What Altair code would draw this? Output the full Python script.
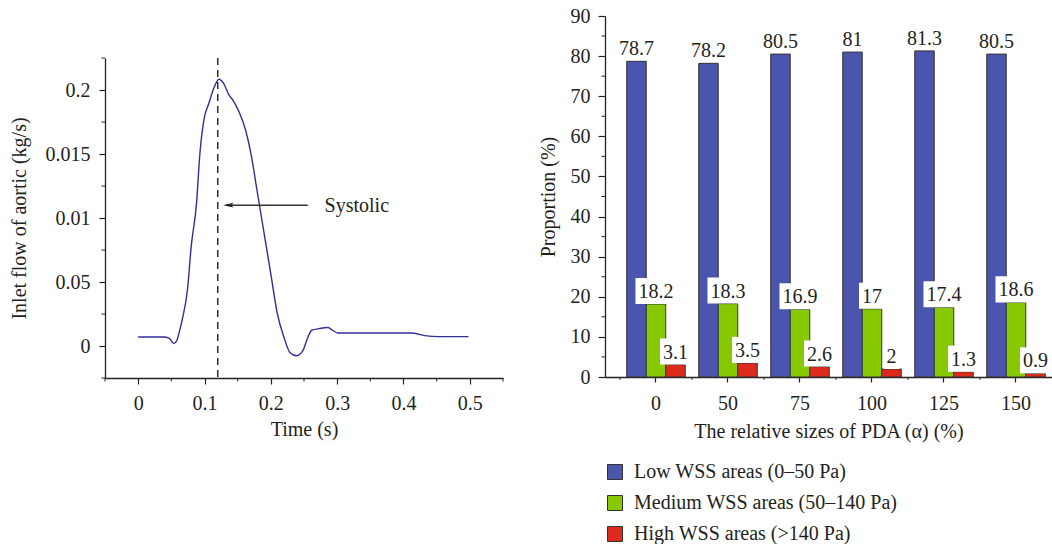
import altair as alt
import pandas as pd

SERIF = "Liberation Serif"
INK = "#231f20"

# ---------------- Left panel: inlet flow ----------------
time_s = [0, 0.038, 0.047, 0.0535, 0.058, 0.062, 0.066, 0.0747, 0.0798, 0.0879,
          0.093, 0.099, 0.1066, 0.114, 0.1217, 0.129, 0.137, 0.142, 0.152, 0.162,
          0.170, 0.180, 0.190, 0.200, 0.210, 0.220, 0.229, 0.239, 0.248, 0.2556,
          0.2616, 0.273, 0.286, 0.293, 0.301, 0.412, 0.432, 0.4525, 0.498]
flow = [0.0007, 0.0007, 0.0006, 0.0002, 0.0004, 0.0011, 0.00196, 0.00457, 0.0077, 0.0111,
        0.0150, 0.01765, 0.01896, 0.02013, 0.02084, 0.0205, 0.0196, 0.01927, 0.0183, 0.01686,
        0.01503, 0.0119, 0.00876, 0.00562, 0.00248, 0.00065, -0.00052, -0.00076, -0.00039, 0.00065,
        0.00123, 0.00136, 0.00144, 0.00123, 0.00102, 0.00102, 0.00081, 0.00073, 0.00073]

systolic_t = 0.12
arrow_from_t = 0.2556
arrow_to_t = 0.1283
arrow_flow = 0.011
systolic_label = "Systolic"
systolic_label_t = 0.281

x_ticks_left = [0, 0.1, 0.2, 0.3, 0.4, 0.5]
x_minor_left = [-0.05, 0.05, 0.15, 0.25, 0.35, 0.45, 0.55]
y_ticks_left = [0, 0.005, 0.01, 0.015, 0.02]
y_tick_labels_left = ["0", "0.05", "0.01", "0.015", "0.2"]
y_minor_left = [-0.0025, 0.0025, 0.0075, 0.0125, 0.0175, 0.0225]
x_domain_left = [-0.05, 0.55]
y_domain_left = [-0.0025, 0.0225]

# ---------------- Right panel: WSS proportions ----------------
alpha_labels = ["0", "50", "75", "100", "125", "150"]
series = ["Low WSS areas (0\u201350 Pa)", "Medium WSS areas (50\u2013140 Pa)", "High WSS areas (>140 Pa)"]
low = [78.7, 78.2, 80.5, 81, 81.3, 80.5]
medium = [18.2, 18.3, 16.9, 17, 17.4, 18.6]
high = [3.1, 3.5, 2.6, 2, 1.3, 0.9]
colors = ["#4b55ad", "#87c900", "#dc2b1c"]
y_ticks_right = [0, 10, 20, 30, 40, 50, 60, 70, 80, 90]
y_minor_right = [5, 15, 25, 35, 45, 55, 65, 75, 85]

W_L, H_L = 398, 320
W_R, H_R = 447, 361
LEFT_DROP = 41

# ---------- left chart ----------
label_expr = "".join(
    f"abs(datum.value - ({v})) < 1e-9 ? '{l}' : " for v, l in zip(y_ticks_left, y_tick_labels_left)
) + "datum.label"

x_scale_l = alt.Scale(domain=x_domain_left, nice=False, zero=False)
y_scale_l = alt.Scale(domain=y_domain_left, nice=False, zero=False)
x_axis_l = alt.Axis(values=x_ticks_left, format="~g", tickSize=6, labelPadding=9, titlePadding=6,
                    domainWidth=1.3)
y_axis_l = alt.Axis(values=y_ticks_left, labelExpr=label_expr, tickSize=6, labelPadding=9,
                    titlePadding=16, domainWidth=1.3)


def xl(field):
    return alt.X(field, type="quantitative", scale=x_scale_l, axis=x_axis_l, title="Time (s)")


def yl(field):
    return alt.Y(field, type="quantitative", scale=y_scale_l, axis=y_axis_l,
                 title="Inlet flow of aortic (kg/s)")


df_flow = pd.DataFrame({"t": time_s, "q": flow})
line = alt.Chart(df_flow).mark_line(color="#2f2f96", strokeWidth=1.4, interpolate="monotone").encode(
    x=xl("t"), y=yl("q"))

dashed = alt.Chart(pd.DataFrame({"t": [systolic_t]})).mark_rule(
    color="#222", strokeWidth=1.4, strokeDash=[7, 5]).encode(x=xl("t"))

df_arrow = pd.DataFrame({"a": [arrow_from_t], "b": [arrow_to_t + 0.004], "q": [arrow_flow]})
arrow = alt.Chart(df_arrow).mark_rule(color="#333", strokeWidth=1.4).encode(
    x=xl("a"), x2="b", y=yl("q"))
df_head = pd.DataFrame({"t": [arrow_to_t + 0.0076], "q": [arrow_flow]})
head = alt.Chart(df_head).mark_point(
    shape="M-1,0L1,-0.45L0.55,0L1,0.45Z", filled=True, size=110, color="#222", opacity=1).encode(
    x=xl("t"), y=yl("q"))

df_lab = pd.DataFrame({"t": [systolic_label_t], "q": [arrow_flow], "txt": [systolic_label]})
lab = alt.Chart(df_lab).mark_text(align="left", baseline="middle", font=SERIF, fontSize=20,
                                  color=INK, dy=1).encode(x=xl("t"), y=yl("q"), text="txt:N")

minor_x_l = alt.Chart(pd.DataFrame({"t": x_minor_left})).mark_rule(color="#222", strokeWidth=1).encode(
    x=xl("t"), y=alt.value(H_L), y2=alt.value(H_L + 3.5))
minor_y_l = alt.Chart(pd.DataFrame({"q": y_minor_left})).mark_rule(color="#222", strokeWidth=1).encode(
    y=yl("q"), x=alt.value(0), x2=alt.value(-3.5))

left_plot = alt.layer(line, dashed, arrow, head, lab, minor_x_l, minor_y_l).properties(
    width=W_L, height=H_L)

spacer = alt.Chart(pd.DataFrame({"a": [0]})).mark_point(opacity=0).encode(
    x=alt.value(0), y=alt.value(0)).properties(width=W_L, height=LEFT_DROP)

left = alt.vconcat(spacer, left_plot, spacing=0)

# ---------- right chart ----------
rows = []
for i, a in enumerate(alpha_labels):
    for s, vals in zip(series, [low, medium, high]):
        v = vals[i]
        txt = f"{v:g}"
        rows.append({"alpha": a, "series": s, "value": v, "label": txt,
                     "box_w": sum(10 if c.isdigit() else 5 for c in txt) + 6,
                     "box_top": v + 6.5})
df = pd.DataFrame(rows)
df_boxed = df[df["series"] != series[0]]

x_axis_r = alt.Axis(labelAngle=0, tickSize=5, labelPadding=11, titlePadding=8, domainWidth=1.3)


def xr(bandpos=None):
    kw = {}
    if bandpos is not None:
        kw["bandPosition"] = bandpos
    return alt.X("alpha:N", sort=alpha_labels,
                 scale=alt.Scale(paddingInner=0, paddingOuter=0.104, align=1),
                 axis=x_axis_r, title="The relative sizes of PDA (\u03b1) (%)", **kw)


xoff = alt.XOffset("series:N", sort=series, scale=alt.Scale(paddingInner=0, paddingOuter=0.346))
y_scale_r = alt.Scale(domain=[0, 90], nice=False)
y_axis_r = alt.Axis(values=y_ticks_right, tickSize=7, labelPadding=8, titlePadding=12, domainWidth=1.3)


def yr(field):
    return alt.Y(field, type="quantitative", scale=y_scale_r, axis=y_axis_r, title="Proportion (%)")


bars = alt.Chart(df).mark_bar(stroke="#333", strokeWidth=1).encode(
    x=xr(), xOffset=xoff, y=yr("value"),
    color=alt.Color("series:N", sort=series, scale=alt.Scale(domain=series, range=colors),
                    legend=alt.Legend(title=None, orient="none", legendX=0, legendY=446,
                                      symbolType="square", symbolSize=225,
                                      symbolStrokeColor="#333", symbolStrokeWidth=1,
                                      labelFont=SERIF, labelFontSize=20, labelColor=INK,
                                      rowPadding=11, labelOffset=9, labelLimit=400)))

boxes = alt.Chart(df_boxed).mark_bar(color="white", strokeWidth=0).encode(
    x=xr(), xOffset=xoff, y=yr("value"), y2="box_top",
    size=alt.Size("box_w:Q", scale=None, legend=None))

texts = alt.Chart(df).mark_text(baseline="alphabetic", dy=-6, font=SERIF, fontSize=20, color=INK).encode(
    x=xr(), xOffset=xoff, y=yr("value"), text="label:N")

minor_x_r = alt.Chart(pd.DataFrame({"alpha": alpha_labels})).mark_rule(color="#222", strokeWidth=1).encode(
    x=xr(0), y=alt.value(H_R), y2=alt.value(H_R + 3))
minor_y_r = alt.Chart(pd.DataFrame({"v": y_minor_right})).mark_rule(color="#222", strokeWidth=1).encode(
    y=yr("v"), x=alt.value(0), x2=alt.value(-3.5))

right = alt.layer(bars, boxes, texts, minor_x_r, minor_y_r).properties(width=W_R, height=H_R)

chart = alt.hconcat(left, right, spacing=34).resolve_legend(color="independent").properties(
    padding={"left": 9, "top": 6, "right": 0, "bottom": 0}
).configure_view(stroke=None).configure_axis(
    grid=False, labelFont=SERIF, titleFont=SERIF, labelFontSize=20, titleFontSize=20,
    titleFontWeight="normal", labelColor=INK, titleColor=INK, domainColor="#222", tickColor="#222",
    tickWidth=1.2
).configure_title(font=SERIF)

chart.save("out.html", embed_options={"renderer": "svg", "actions": False})
